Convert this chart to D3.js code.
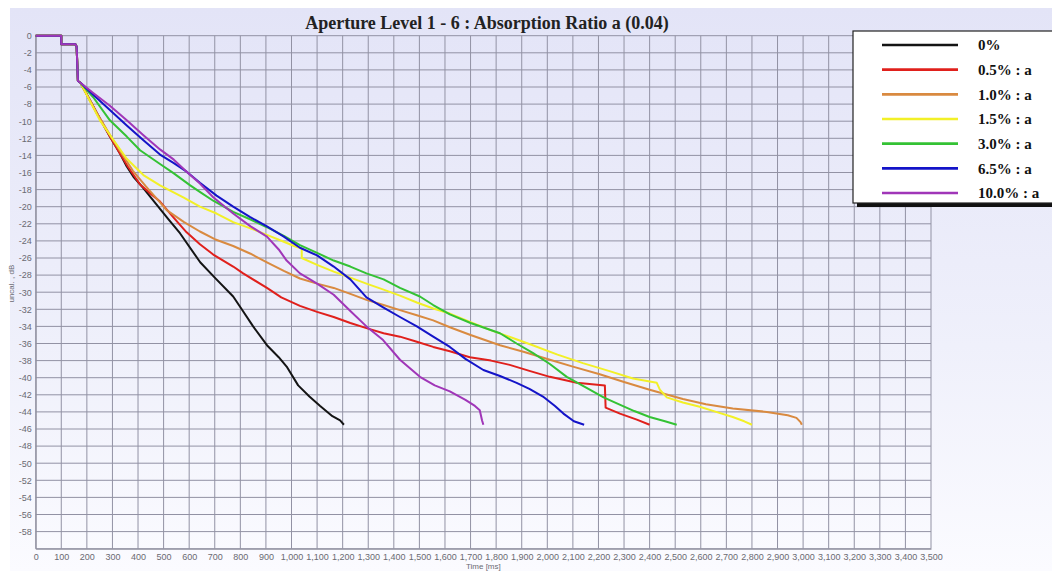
<!DOCTYPE html>
<html>
<head>
<meta charset="utf-8">
<script src="https://cdn.jsdelivr.net/npm/d3@7"></script>
<style>
  body { margin: 0; background: #fff; }
  svg { display: block; }
  .axis text { fill: #6a6a72; font-family: "Liberation Sans Narrow", "Liberation Sans", Arial, sans-serif; font-size: 9px; }
  .axis path, .axis line { stroke: #8e8e9c; }
  .title { font-family: "Liberation Serif", "DejaVu Serif", serif; font-weight: bold; font-size: 18px; fill: #222; }
  .legend text { font-family: "Liberation Serif", "DejaVu Serif", serif; font-weight: bold; font-size: 15px; fill: #111; }
</style>
</head>
<body>
<div id="chart"></div>
<script>
// shared start of every trace (direct sound + first drop)
const startTrace = [[0, 0], [100, 0], [100, -1], [155, -1], [160, -1.3], [165, -5.3], [175, -5.5]];

const seriesNames = ['0%', '0.5% : a', '1.0% : a', '1.5% : a', '3.0% : a', '6.5% : a', '10.0% : a'];
const seriesColors = ['#141414', '#e0201c', '#d98a40', '#f2f027', '#34c234', '#1414c8', '#a036b8'];

const decay0 = [[240, -9.1], [290, -11.8], [330, -13.8], [356, -15.3], [382, -16.5], [420, -17.8], [460, -19.3],
  [520, -21.5], [564, -23.1], [643, -26.5], [700, -28.3], [772, -30.5], [810, -32.2], [850, -34.0], [904, -36.2],
  [950, -37.6], [981, -38.7], [1026, -40.9], [1070, -42.2], [1112, -43.3], [1160, -44.5], [1190, -45.0], [1205, -45.5]];

const decay05 = [[240, -9.1], [290, -11.8], [330, -13.8], [360, -15.3], [408, -17.4], [450, -18.5], [486, -19.4],
  [540, -21.3], [590, -23.0], [642, -24.4], [694, -25.6], [772, -27.0], [811, -27.8], [904, -29.5], [960, -30.6],
  [1033, -31.6], [1100, -32.3], [1165, -32.9], [1230, -33.6], [1293, -34.2], [1360, -34.8], [1424, -35.2],
  [1490, -35.8], [1554, -36.4], [1619, -36.9], [1697, -37.6], [1780, -38.0], [1853, -38.5], [1930, -39.2],
  [2010, -39.9], [2115, -40.6], [2225, -40.9], [2228, -43.5], [2284, -44.2], [2350, -44.9], [2400, -45.5]];

const decay10 = [[240, -9.1], [290, -11.6], [330, -13.5], [380, -15.8], [430, -17.6], [486, -19.5], [512, -20.4],
  [580, -21.8], [642, -22.9], [700, -23.8], [772, -24.6], [840, -25.5], [904, -26.5], [970, -27.5], [1033, -28.4],
  [1100, -29.0], [1165, -29.5], [1230, -30.2], [1293, -30.9], [1360, -31.5], [1424, -32.1], [1490, -32.7],
  [1554, -33.3], [1619, -34.1], [1700, -35.0], [1815, -36.2], [1910, -37.0], [2010, -37.9], [2100, -38.7],
  [2205, -39.6], [2300, -40.5], [2400, -41.4], [2530, -42.5], [2620, -43.1], [2725, -43.6], [2858, -44.0],
  [2940, -44.4], [2974, -44.7], [2990, -45.2], [2995, -45.5]];

const decay15 = [[251, -9.9], [304, -12.2], [356, -14.4], [421, -16.3], [486, -17.5], [577, -18.9], [642, -20.0],
  [707, -20.8], [772, -21.8], [837, -22.5], [904, -23.3], [970, -24.1], [1010, -24.6], [1040, -24.9], [1040, -26.0],
  [1100, -26.8], [1165, -27.6], [1230, -28.3], [1293, -29.0], [1360, -29.7], [1424, -30.4], [1490, -31.2],
  [1554, -31.9], [1619, -32.5], [1700, -33.5], [1776, -34.4], [1860, -35.3], [1943, -36.2], [2040, -37.3],
  [2139, -38.3], [2240, -39.2], [2335, -40.1], [2428, -40.6], [2440, -41.4], [2467, -42.3], [2530, -42.9],
  [2596, -43.4], [2660, -44.0], [2725, -44.6], [2770, -45.1], [2800, -45.5]];

const decay30 = [[225, -7.2], [290, -9.9], [356, -11.8], [408, -13.4], [486, -15.0], [540, -16.1], [604, -17.5],
  [643, -18.3], [694, -19.3], [772, -20.6], [840, -21.5], [904, -22.4], [970, -23.4], [1033, -24.5], [1100, -25.4],
  [1165, -26.3], [1230, -27.0], [1293, -27.8], [1360, -28.5], [1424, -29.5], [1502, -30.5], [1554, -31.5],
  [1619, -32.6], [1700, -33.6], [1815, -34.8], [1880, -36.0], [1943, -37.1], [2010, -38.4], [2076, -39.9],
  [2166, -41.4], [2220, -42.3], [2272, -43.0], [2340, -43.9], [2400, -44.6], [2460, -45.1], [2506, -45.5]];

const decay65 = [[225, -6.9], [290, -8.7], [356, -10.5], [420, -12.2], [486, -13.9], [540, -14.9], [590, -15.9],
  [642, -17.2], [707, -18.7], [772, -20.0], [837, -21.2], [904, -22.3], [970, -23.5], [1033, -24.8], [1100, -25.7],
  [1165, -27.0], [1230, -28.5], [1293, -30.6], [1360, -31.8], [1424, -32.9], [1490, -34.0], [1554, -35.2],
  [1619, -36.4], [1680, -37.8], [1750, -39.1], [1815, -39.8], [1880, -40.6], [1930, -41.3], [1983, -42.2],
  [2030, -43.3], [2063, -44.2], [2104, -45.1], [2144, -45.5]];

const decay100 = [[225, -6.7], [290, -8.2], [356, -9.9], [420, -11.6], [486, -13.3], [540, -14.5], [590, -15.9],
  [642, -17.3], [694, -18.9], [772, -20.8], [840, -22.3], [904, -23.5], [950, -25.0], [981, -26.3], [1033, -27.8],
  [1100, -29.0], [1165, -30.3], [1230, -32.2], [1293, -34.0], [1358, -35.6], [1424, -37.9], [1502, -39.9],
  [1560, -40.9], [1619, -41.6], [1680, -42.6], [1717, -43.3], [1736, -43.8], [1745, -45.0], [1750, -45.5]];

const seriesValues = [decay0, decay05, decay10, decay15, decay30, decay65, decay100];

const xTicks = d3.range(0, 3501, 100);
const yTicks = d3.range(0, -59, -2);

(function drawChart () {
  const width = 1052;
  const height = 571;
  const plot = {left: 35.7, top: 35.7, right: 931, bottom: 548.7};

  const svg = d3.select('#chart').append('svg')
    .attr('width', width)
    .attr('height', height);

  const defs = svg.append('defs');
  const grad = defs.append('linearGradient')
    .attr('id', 'bg')
    .attr('x1', 0).attr('y1', 0).attr('x2', 0).attr('y2', 1);
  grad.append('stop').attr('offset', '0%').attr('stop-color', '#e3e4f7');
  grad.append('stop').attr('offset', '60%').attr('stop-color', '#eff0fb');
  grad.append('stop').attr('offset', '100%').attr('stop-color', '#fbfbff');

  // lavender backdrop of the window
  svg.append('rect')
    .attr('x', 10).attr('y', 8)
    .attr('width', width - 10).attr('height', height - 8)
    .attr('fill', 'url(#bg)');

  const x = d3.scaleLinear().domain([0, 3500]).range([plot.left, plot.right]);
  const y = d3.scaleLinear().domain([0, -60]).range([plot.top, plot.bottom]);

  // grid
  svg.append('g')
    .attr('class', 'grid')
    .selectAll('line.v')
    .data(xTicks)
    .enter().append('line')
    .attr('x1', d => x(d)).attr('x2', d => x(d))
    .attr('y1', plot.top).attr('y2', plot.bottom)
    .attr('stroke', '#9292a4')
    .attr('stroke-width', 1);

  svg.select('g.grid')
    .selectAll('line.h')
    .data(yTicks.concat([-60]))
    .enter().append('line')
    .attr('x1', plot.left).attr('x2', plot.right)
    .attr('y1', d => y(d)).attr('y2', d => y(d))
    .attr('stroke', '#9292a4')
    .attr('stroke-width', 1);

  // axes
  const xAxis = svg.append('g')
    .attr('class', 'axis')
    .attr('transform', 'translate(0,' + plot.bottom + ')')
    .call(d3.axisBottom(x).tickValues(xTicks).tickFormat(d3.format(',')).tickSize(0).tickPadding(5));
  xAxis.select('.domain').attr('stroke', '#6e6e7a');

  const yAxis = svg.append('g')
    .attr('class', 'axis')
    .attr('transform', 'translate(' + plot.left + ',0)')
    .call(d3.axisLeft(y).tickValues(yTicks).tickFormat(d => d).tickSize(0).tickPadding(4));
  yAxis.select('.domain').attr('stroke', '#6e6e7a');

  svg.append('text')
    .attr('x', x(1750)).attr('y', 569)
    .attr('text-anchor', 'middle')
    .style('font-family', '"Liberation Sans Narrow", "Liberation Sans", sans-serif')
    .style('font-size', '8px')
    .style('fill', '#6a6a72')
    .text('Time [ms]');

  svg.append('text')
    .attr('transform', 'translate(14,' + y(-29) + ') rotate(-90)')
    .attr('text-anchor', 'middle')
    .style('font-family', '"Liberation Sans Narrow", "Liberation Sans", sans-serif')
    .style('font-size', '8px')
    .style('fill', '#6a6a72')
    .text('uncal. , dB');

  // decay curves
  const line = d3.line()
    .x(d => x(d[0]))
    .y(d => y(d[1]));

  svg.append('g')
    .attr('class', 'curves')
    .selectAll('path')
    .data(seriesValues)
    .enter().append('path')
    .attr('fill', 'none')
    .attr('stroke', (d, i) => seriesColors[i])
    .attr('stroke-width', 2)
    .attr('stroke-linejoin', 'round')
    .attr('d', d => line(startTrace.concat(d)));

  // title
  svg.append('text')
    .attr('class', 'title')
    .attr('x', 487).attr('y', 29)
    .attr('text-anchor', 'middle')
    .text('Aperture Level 1 - 6 : Absorption Ratio a (0.04)');

  // legend
  const legend = svg.append('g').attr('class', 'legend');
  legend.append('rect')
    .attr('x', 857).attr('y', 35)
    .attr('width', 200).attr('height', 172)
    .attr('fill', '#111');
  legend.append('rect')
    .attr('x', 853).attr('y', 31)
    .attr('width', 200).attr('height', 172)
    .attr('fill', '#fff')
    .attr('stroke', '#222')
    .attr('stroke-width', 1.2);

  const ly = d3.scalePoint().domain(seriesNames).range([45, 193]);
  const rows = legend.selectAll('g.row')
    .data(seriesNames)
    .enter().append('g')
    .attr('class', 'row')
    .attr('transform', d => 'translate(0,' + ly(d) + ')');
  rows.append('line')
    .attr('x1', 882).attr('x2', 958)
    .attr('stroke', (d, i) => seriesColors[i])
    .attr('stroke-width', 2.6);
  rows.append('text')
    .attr('x', 978).attr('dy', '0.35em')
    .text(d => d);
})();
</script>
</body>
</html>
